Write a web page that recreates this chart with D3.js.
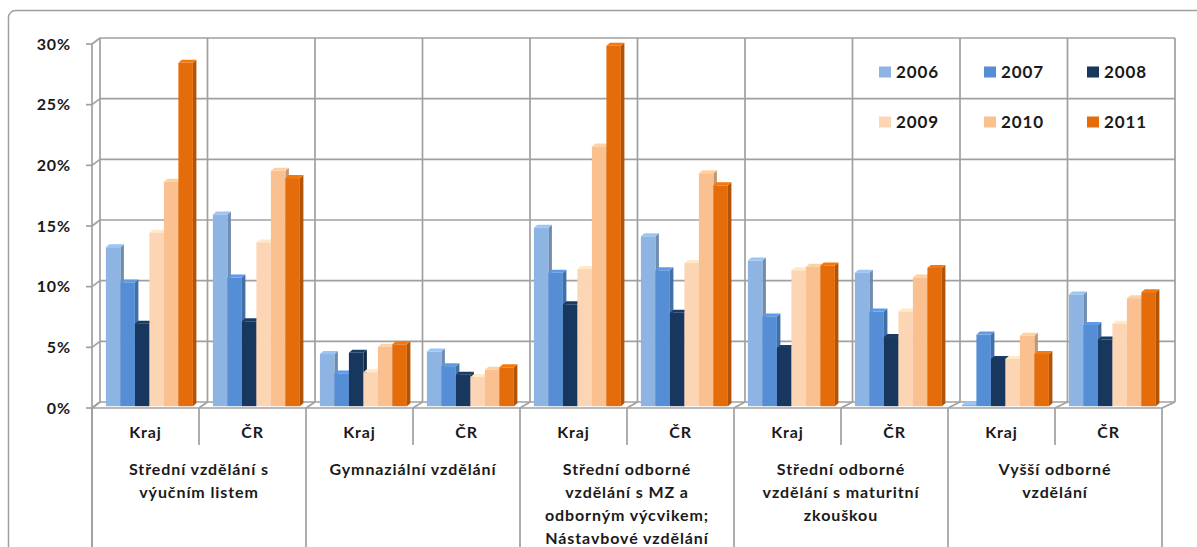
<!DOCTYPE html>
<html><head><meta charset="utf-8">
<script src="https://cdn.jsdelivr.net/npm/d3@7"></script>
<style>
html,body{margin:0;padding:0;background:#fff;}
svg{display:block;font-family:Lato,"Open Sans",sans-serif;font-weight:bold;}
svg text{letter-spacing:0.9px;}
</style></head>
<body><svg id="c" width="1197" height="547"></svg>
<script>
const years = ["2006","2007","2008","2009","2010","2011"];
const colors = ["#8DB4E2","#558ED5","#17375E","#FCD5B5","#FAC090","#E46C0A"];
const categories = ["Kraj","ČR","Kraj","ČR","Kraj","ČR","Kraj","ČR","Kraj","ČR"];
const groups = [
  ["Střední vzdělání s","výučním listem"],
  ["Gymnaziální  vzdělání"],
  ["Střední odborné","vzdělání s MZ a","odborným výcvikem;","Nástavbové  vzdělání"],
  ["Střední odborné","vzdělání s maturitní","zkouškou"],
  ["Vyšší odborné","vzdělání"]
];
// values in % by year, one entry per category
const v2006 = [13.1,15.8,4.3,4.5,14.7,14.0,12.0,11.0,0.1,9.2];
const v2007 = [10.2,10.6,2.7,3.3,11.0,11.2,7.4,7.8,5.9,6.7];
const v2008 = [6.8,7.0,4.4,2.6,8.4,7.7,4.8,5.7,3.9,5.5];
const v2009 = [14.3,13.5,2.8,2.4,11.3,11.8,11.2,7.8,3.9,6.8];
const v2010 = [18.5,19.4,4.9,3.0,21.4,19.2,11.5,10.6,5.8,8.9];
const v2011 = [28.3,18.8,5.1,3.2,29.7,18.2,11.6,11.4,4.3,9.4];
const series = [v2006,v2007,v2008,v2009,v2010,v2011];
const yTicks = [0,5,10,15,20,25,30];

const svg = d3.select("#c");
const gridCol = "#a0a0a0";
const X0 = 92, X1 = 1162, DX = 8, DY = -6;
const y = d3.scaleLinear().domain([0,30]).range([408,44]);
const x = d3.scaleBand().domain(d3.range(categories.length)).range([X0,X1]).padding(0);
const cw = x.bandwidth();

// outer frame
svg.append("rect").attr("x",8.5).attr("y",10.5).attr("width",1200).attr("height",560)
  .attr("rx",7).attr("fill","none").attr("stroke","#a0a0a0").attr("stroke-width",1.5);

const grid = svg.append("g").attr("stroke",gridCol).attr("stroke-width",1.7).attr("fill","none");
// back wall horizontal gridlines
yTicks.forEach(t=>{
  grid.append("line").attr("x1",X0+DX).attr("x2",X1+DX+5).attr("y1",y(t)+DY).attr("y2",y(t)+DY);
  grid.append("line").attr("x1",X0).attr("x2",X0+DX).attr("y1",y(t)).attr("y2",y(t)+DY);
  grid.append("line").attr("x1",X0-6).attr("x2",X0).attr("y1",y(t)).attr("y2",y(t));
});
// back wall verticals
d3.range(categories.length+1).forEach(i=>{
  const xb = X0 + i*cw + DX + i*0.5;
  grid.append("line").attr("x1",xb).attr("x2",xb).attr("y1",y(30)+DY).attr("y2",y(0)+DY);
  grid.append("line").attr("x1",X0 + i*cw).attr("x2",xb).attr("y1",y(0)).attr("y2",y(0)+DY);
});
// front axis line and floor front
grid.append("line").attr("x1",X0).attr("x2",X0).attr("y1",y(30)).attr("y2",547);
grid.append("line").attr("x1",X0).attr("x2",X1).attr("y1",y(0)).attr("y2",y(0));

// y labels
svg.append("g").selectAll("text").data(yTicks).join("text")
  .attr("x",71).attr("y",d=>y(d)).attr("dy","0.36em").attr("text-anchor","end")
  .attr("font-size",16).attr("fill","#1a1a1a").text(d=>d+"%");

// bars
const pad = 11.5, bw = 14.5, bd0 = 0.3, bdx = 3.5, bdy = -3;
const bars = svg.append("g");
categories.forEach((c,i)=>{
  series.forEach((s,j)=>{
    const val = s[i];
    const xl = x(i) + DX*bd0 + pad + j*bw;
    const xr = xl + bw;
    const yb = y(0) + DY*bd0;
    const yt = y(val) + DY*bd0;
    const base = d3.color(colors[j]);
    bars.append("path").attr("d",`M${xr},${yb}L${xr+bdx},${yb+bdy}L${xr+bdx},${yt+bdy}L${xr},${yt}Z`)
      .attr("fill",base.darker(0.7));
    bars.append("path").attr("d",`M${xl},${yt}L${xl+bdx},${yt+bdy}L${xr+bdx},${yt+bdy}L${xr},${yt}Z`)
      .attr("fill",base.brighter(0.25));
    bars.append("rect").attr("x",xl).attr("y",yt).attr("width",bw).attr("height",Math.max(0,yb-yt))
      .attr("fill",colors[j]);
  });
});

// bottom category axis
const ax = svg.append("g").attr("stroke",gridCol).attr("stroke-width",1.7);
d3.range(categories.length+1).forEach(i=>{
  const xx = X0 + i*cw;
  ax.append("line").attr("x1",xx).attr("x2",xx).attr("y1",y(0)).attr("y2", i%2===0 ? 547 : 445);
});
svg.append("g").selectAll("text").data(categories).join("text")
  .attr("x",(d,i)=>x(i)+cw/2).attr("y",432).attr("dy","0.36em").attr("text-anchor","middle")
  .attr("font-size",16).attr("fill","#1a1a1a").text(d=>d);
groups.forEach((lines,g)=>{
  const cx = X0 + (2*g+1)*cw;
  lines.forEach((ln,k)=>{
    svg.append("text").attr("x",cx).attr("y",469+k*23).attr("dy","0.36em").attr("text-anchor","middle")
      .attr("font-size",16).attr("fill","#1a1a1a").text(ln);
  });
});

// legend
const legPos = [[879,72],[984,72],[1087,72],[879,122],[984,122],[1087,122]];
years.forEach((yr,j)=>{
  const [lx,ly] = legPos[j];
  svg.append("rect").attr("x",lx).attr("y",ly-5.5).attr("width",12).attr("height",11).attr("fill",colors[j]);
  svg.append("text").attr("x",lx+17).attr("y",ly).attr("dy","0.36em").attr("font-size",17)
    .attr("fill","#1a1a1a").text(yr);
});
</script></body></html>
